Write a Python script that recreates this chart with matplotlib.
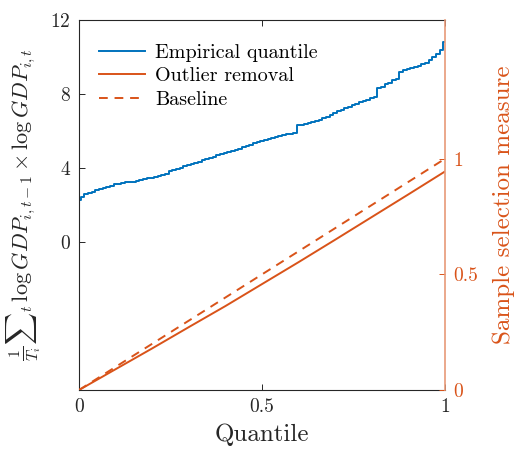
import matplotlib
matplotlib.use("Agg")
import matplotlib.pyplot as plt
import numpy as np

plt.rcParams['font.family'] = 'serif'
plt.rcParams['font.serif'] = ['cmr10']
plt.rcParams['mathtext.fontset'] = 'cm'
plt.rcParams['axes.formatter.use_mathtext'] = True
plt.rcParams['axes.unicode_minus'] = False

blue = '#0072BD'
orange = '#D95319'
dark = '#262626'

# empirical quantile of the GDP product measure, on a grid of 101 levels
emp_q = [2.27, 2.45, 2.62, 2.66, 2.72, 2.80, 2.84, 2.90, 2.98, 3.05, 3.12,
         3.16, 3.20, 3.22, 3.24, 3.26, 3.30, 3.34, 3.40, 3.44, 3.48,
         3.52, 3.58, 3.64, 3.70, 3.82, 3.88, 3.95, 4.02, 4.10, 4.16,
         4.22, 4.28, 4.34, 4.42, 4.50, 4.56, 4.62, 4.68, 4.74, 4.80,
         4.86, 4.92, 4.98, 5.04, 5.12, 5.18, 5.26, 5.34, 5.40, 5.46,
         5.52, 5.58, 5.62, 5.68, 5.72, 5.76, 5.82, 5.86, 5.90, 6.30,
         6.34, 6.38, 6.42, 6.46, 6.52, 6.60, 6.68, 6.78, 6.88, 6.98,
         7.06, 7.14, 7.22, 7.30, 7.38, 7.46, 7.54, 7.62, 7.70, 7.80,
         7.86, 8.30, 8.40, 8.52, 8.62, 8.74, 8.80, 9.20, 9.28, 9.34,
         9.40, 9.46, 9.52, 9.62, 9.70, 9.84, 9.98, 10.18, 10.40, 10.80]
emp_level = np.linspace(0, 1, len(emp_q))

# sample selection measures
sel_x = [0.0, 0.1, 0.2, 0.3, 0.4, 0.5, 0.6, 0.7, 0.8, 0.9, 1.0]
outlier = [0.0, 0.09, 0.18, 0.272, 0.363, 0.458, 0.553, 0.65, 0.748, 0.846, 0.945]
base_x = [0.0, 1.0]
baseline = [0.0, 1.0]

fig = plt.figure(figsize=(5.14, 4.5), dpi=100)
ax = fig.add_axes([0.1537, 0.1333, 0.8658 - 0.1537, 0.9556 - 0.1333])
ax2 = ax.twinx()

l1, = ax.plot(emp_level, emp_q, color=blue, lw=1.4, drawstyle='steps-mid',
              label='Empirical quantile')
l2, = ax2.plot(sel_x, outlier, color=orange, lw=1.4, label='Outlier removal')
l3, = ax2.plot(base_x, baseline, color=orange, lw=1.4, ls=(0, (4.5, 3.5)),
               label='Baseline')

ax.set_xlim(0, 1)
ax.set_ylim(-8, 12)
ax2.set_ylim(0, 1.6)
ax.set_xticks([0, 0.5, 1])
ax.set_xticklabels(['0', '0.5', '1'])
ax.set_yticks([0, 4, 8, 12])
ax2.set_yticks([0, 0.5, 1])
ax2.set_yticklabels(['0', '0.5', '1'])

ax.tick_params(axis='x', direction='in', top=True, length=4, width=0.7,
               colors=dark, labelsize=14, pad=6)
ax.tick_params(axis='y', direction='in', length=4, width=0.7,
               colors=dark, labelsize=14, pad=6)
ax2.tick_params(axis='y', direction='in', length=4, width=0.7,
                colors=orange, labelsize=14, pad=6)

for s in ['left', 'bottom', 'top']:
    ax.spines[s].set_color(dark)
    ax.spines[s].set_linewidth(0.8)
for s in ['left', 'bottom', 'top']:
    ax2.spines[s].set_visible(False)
ax.spines['right'].set_visible(False)
ax2.spines['right'].set_color('#E89A78')
ax2.spines['right'].set_linewidth(1.2)

ax.set_xlabel('Quantile', fontsize=18, color=dark, labelpad=5)
ax.set_ylabel(r'$\frac{1}{T_i}{\sum}_t\,\log GDP_{i,t-1}\times\log GDP_{i,t}$',
              fontsize=16, color=dark, labelpad=5)
ax2.set_ylabel('Sample selection measure', fontsize=18, color=orange,
               labelpad=10)

ax2.legend(handles=[l1, l2, l3], loc='upper left', frameon=False,
           fontsize=14.5, handlelength=2.3, handletextpad=0.5,
           bbox_to_anchor=(0.004, 0.985), labelspacing=0.28)

fig.savefig('out.png', dpi=100)
